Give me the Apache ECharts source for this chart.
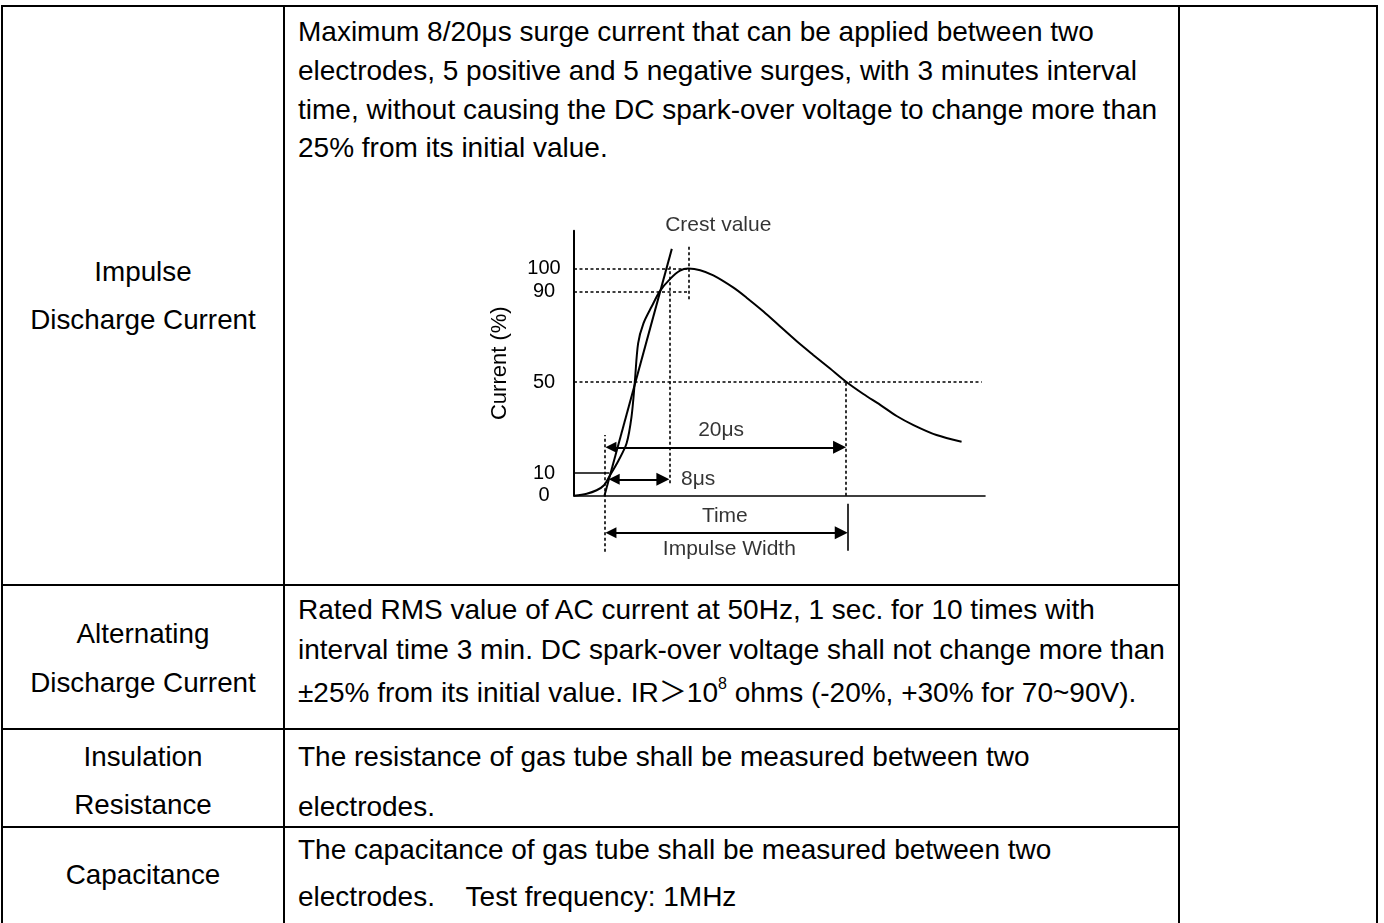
<!DOCTYPE html>
<html>
<head>
<meta charset="utf-8">
<title>Impulse Discharge Current</title>
<script src="https://cdn.jsdelivr.net/npm/echarts@6.0.0/dist/echarts.min.js"></script>
<style>
html, body { margin: 0; padding: 0; background: #fff; }
#page { position: relative; width: 1384px; height: 923px; overflow: hidden;
        font-family: Arial, "Liberation Sans", "Noto Sans CJK SC", sans-serif; color: #000; }
.ln { position: absolute; background: #000; }
.c1 { position: absolute; left: 2px; width: 282px; text-align: center; font-size: 27.8px; white-space: nowrap; }
.c2 { position: absolute; left: 298px; width: 880px; font-size: 28px; white-space: nowrap; }
.c2 sup { font-size: 16px; line-height: 0; position: relative; top: -3px; vertical-align: super; }
.gt { font-family: "Noto Sans CJK SC", sans-serif; }
#surge_chart { position: absolute; left: 0; top: 0; width: 1384px; height: 923px; }
</style>
</head>
<body>
<div id="page">
    <!-- table frame -->
    <div class="ln" style="left:1px;top:5px;width:1377px;height:2px"></div>
    <div class="ln" style="left:1px;top:5px;width:2px;height:920px"></div>
    <div class="ln" style="left:283px;top:5px;width:2px;height:920px"></div>
    <div class="ln" style="left:1178px;top:5px;width:2px;height:920px"></div>
    <div class="ln" style="left:1376px;top:5px;width:2px;height:920px"></div>
    <div class="ln" style="left:1px;top:584px;width:1179px;height:2px"></div>
    <div class="ln" style="left:1px;top:728px;width:1179px;height:2px"></div>
    <div class="ln" style="left:1px;top:826px;width:1179px;height:2px"></div>

    <!-- row 1 -->
    <div class="c1" style="top:248px;line-height:48px">Impulse<br>Discharge Current</div>
    <div class="c2" style="top:13px;line-height:38.8px">Maximum 8/20μs surge current that can be applied between two<br>electrodes, 5 positive and 5 negative surges, with 3 minutes interval<br>time, without causing the DC spark-over voltage to change more than<br>25% from its initial value.</div>

    <!-- row 2 -->
    <div class="c1" style="top:609px;line-height:49px">Alternating<br>Discharge Current</div>
    <div class="c2" style="top:590px;line-height:40px">Rated RMS value of AC current at 50Hz, 1 sec. for 10 times with<br>interval time 3 min. DC spark-over voltage shall not change more than<br>±25% from its initial value. IR<span class="gt">＞</span>10<sup>8</sup> ohms (-20%, +30% for 70~90V).</div>

    <!-- row 3 -->
    <div class="c1" style="top:733px;line-height:48px">Insulation<br>Resistance</div>
    <div class="c2" style="top:732px;line-height:50px">The resistance of gas tube shall be measured between two<br>electrodes.</div>

    <!-- row 4 -->
    <div class="c1" style="top:851px;line-height:48px">Capacitance</div>
    <div class="c2" style="top:826px;line-height:47px">The capacitance of gas tube shall be measured between two<br>electrodes.&nbsp;&nbsp;&nbsp; Test frequency: 1MHz</div>

    <div id="surge_chart"></div>
</div>

<script type="text/javascript">
    // y axis tick labels (Current %)
    var yTicks = [0, 10, 50, 90, 100];

    // 8/20 waveform (time in arbitrary units 0..100)
    var waveX = [0, 3.1, 5.5, 7.3, 8.8, 10.8, 12.8, 14.0, 14.8, 15.6, 16.9, 18.9, 20.9, 23.4, 25.8, 27.8,
                 30.7, 33.9, 38.8, 42.0, 46.1, 50.1, 54.2, 58.2, 62.3, 66.2, 70.4, 74.5, 78.5, 82.6, 88.2, 94.3];
    var waveY = [0, 0.9, 2.4, 4.6, 9.1, 15.4, 23.1, 34.8, 50.2, 67.1, 75.9, 83.3, 90.1, 95.5, 99.1, 100,
                 99.3, 97.0, 91.6, 87.2, 81.1, 74.6, 68.0, 62.0, 56.0, 50.2, 44.8, 40.0, 35.1, 31.1, 26.7, 23.8];

    // straight front line through 10% and 90%
    var frontLine = [[7.4, 0], [23.8, 108.7]];
    // short solid line at the 10% level
    var tenLevel = [[0, 10], [8.6, 10]];

    // dotted guide lines
    var guideLines = [
        [[0, 100], [27.8, 100]],
        [[0, 90], [27.8, 90]],
        [[27.8, 86.5], [27.8, 110.3]],
        [[23.2, 5.5], [23.2, 100.9]],
        [[0, 50], [99.2, 50]],
        [[66.2, 0], [66.2, 50]],
        [[7.4, -24.7], [7.4, 26.7]]
    ];

    // double-headed arrows: 20us, 8us, impulse width
    var arrowLines = [
        [[7.4, 21.3], [66.2, 21.3]],
        [[8.2, 7.2], [23.2, 7.2]],
        [[7.4, -16.3], [66.6, -16.3]]
    ];

    // end bar of impulse width
    var endBars = [[[66.6, -3.6], [66.6, -24.2]]];

    var notes = ['Crest value', '20μs', '8μs', 'Time', 'Impulse Width'];
    var noteX = [35.1, 35.8, 30.2, 36.7, 37.8];
    var noteY = [119.3, 28.9, 7.2, -8.9, -23.6];

    var gridW = 411;
    var xMax = 100;
    var headLen = 13;
    var inset = headLen / 2 * xMax / gridW;

    var font = 'Arial, "Liberation Sans", sans-serif';

    var series = [
        {
            name: 'wave', type: 'line', smooth: 0.3, symbol: 'none', clip: false, silent: true,
            data: waveX.map(function (x, i) { return [x, waveY[i]]; }),
            lineStyle: { color: '#000', width: 2 }
        },
        {
            name: 'front', type: 'line', symbol: 'none', clip: false, silent: true,
            data: frontLine, lineStyle: { color: '#000', width: 2 }
        },
        {
            name: 'ten', type: 'line', symbol: 'none', clip: false, silent: true,
            data: tenLevel, lineStyle: { color: '#000', width: 1.3 }
        },
        {
            name: 'guides', type: 'lines', coordinateSystem: 'cartesian2d', clip: false, silent: true,
            symbol: 'none',
            data: guideLines.map(function (c) { return { coords: c }; }),
            lineStyle: { color: '#000', width: 1.6, type: [3, 2.5], opacity: 1 }
        },
        {
            name: 'arrows', type: 'lines', coordinateSystem: 'cartesian2d', clip: false, silent: true,
            symbol: ['triangle', 'triangle'], symbolSize: [11, headLen],
            data: arrowLines.map(function (c) {
                return { coords: [[c[0][0] + inset, c[0][1]], [c[1][0] - inset, c[1][1]]] };
            }),
            lineStyle: { color: '#000', width: 2, opacity: 1 }
        },
        {
            name: 'bars', type: 'lines', coordinateSystem: 'cartesian2d', clip: false, silent: true,
            symbol: 'none',
            data: endBars.map(function (c) { return { coords: c }; }),
            lineStyle: { color: '#000', width: 1.6, opacity: 1 }
        },
        {
            name: 'notes', type: 'scatter', clip: false, silent: true, symbolSize: 1,
            itemStyle: { color: 'rgba(0,0,0,0)' },
            data: notes.map(function (n, i) { return { name: n, value: [noteX[i], noteY[i]] }; }),
            label: { show: true, position: 'inside', formatter: '{b}', color: '#000', fontSize: 21, fontFamily: font }
        }
    ];

    var option = {
        animation: false,
        grid: { left: 574, top: 230.7, width: gridW, height: 265 },
        xAxis: {
            type: 'value', min: 0, max: xMax,
            axisLine: { show: true, lineStyle: { color: '#000', width: 1.6 } },
            axisTick: { show: false }, axisLabel: { show: false }, splitLine: { show: false }
        },
        yAxis: {
            type: 'value', min: 0, max: 116.7,
            name: 'Current (%)', nameLocation: 'middle', nameGap: 63,
            nameTextStyle: { color: '#000', fontSize: 22, fontFamily: font },
            axisLine: { show: true, lineStyle: { color: '#000', width: 2 } },
            axisTick: { show: false }, splitLine: { show: false },
            axisLabel: { customValues: yTicks, color: '#000', fontSize: 20, fontFamily: font, align: 'center', margin: 30 }
        },
        series: series
    };

    var surge_chart = echarts.init(document.getElementById('surge_chart'));
    surge_chart.setOption(option);
</script>
</body>
</html>
